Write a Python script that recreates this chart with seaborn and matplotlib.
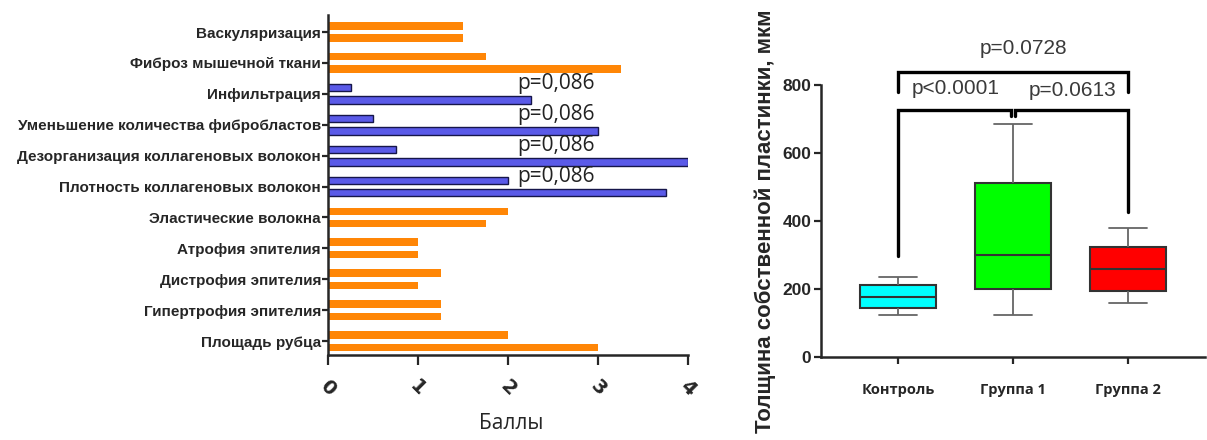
import numpy as np
import pandas as pd
import seaborn as sns
import matplotlib.pyplot as plt

# --- данные: левая панель (баллы) ---
categories = ["Васкуляризация", "Фиброз мышечной ткани", "Инфильтрация",
              "Уменьшение количества фибробластов",
              "Дезорганизация коллагеновых волокон",
              "Плотность коллагеновых волокон", "Эластические волокна",
              "Атрофия эпителия", "Дистрофия эпителия",
              "Гипертрофия эпителия", "Площадь рубца"]
upper_scores = [1.5, 1.75, 0.25, 0.5, 0.75, 2.0, 2.0, 1.0, 1.25, 1.25, 2.0]
lower_scores = [1.5, 3.25, 2.25, 3.0, 4.0, 3.75, 1.75, 1.0, 1.0, 1.25, 3.0]
highlighted = [False, False, True, True, True, True, False, False, False, False, False]
p_left = "p=0,086"

# --- данные: правая панель (толщина, мкм) ---
groups = ["Контроль", "Группа 1", "Группа 2"]
# min, Q1, медиана, Q3, max
control_box = [123, 144, 176, 210, 236]
group1_box = [123, 200, 300, 512, 686]
group2_box = [157, 192, 259, 323, 378]

bracket_pairs = [(0, 1), (1, 2), (0, 2)]
bracket_tops = [726, 726, 839]
bracket_legs = [(297, 708), (708, 427), (780, 780)]
bracket_labels = ["p<0.0001", "p=0.0613", "p=0.0728"]

sns.set_style("ticks")
plt.rcParams['font.family'] = ['Liberation Sans', 'DejaVu Sans']

fig = plt.figure(figsize=(12.07, 4.4), dpi=100)
ax1 = fig.add_axes([328 / 1207, 85 / 440, 360 / 1207, 340 / 440])
ax2 = fig.add_axes([821 / 1207, 83.3 / 440, 384 / 1207, 271.7 / 440])

# ---------- левая панель ----------
bars = pd.DataFrame({
    "cat": categories * 2,
    "score": upper_scores + lower_scores,
    "series": ["a"] * len(categories) + ["b"] * len(categories),
})
sns.barplot(data=bars, y="cat", x="score", hue="series", orient="h",
            errorbar=None, gap=0.4, legend=False, ax=ax1)

orange = "#FF8606"
blue = "#5A5AE8"
for cont in ax1.containers:
    for i, patch in enumerate(cont.patches):
        if highlighted[i]:
            patch.set_facecolor(blue)
            patch.set_edgecolor("#16164A")
            patch.set_linewidth(1.0)
        else:
            patch.set_facecolor(orange)
            patch.set_edgecolor("none")

for i, flag in enumerate(highlighted):
    if flag:
        ax1.text(2.1, i - 0.32, p_left, ha="left", va="center",
                 fontsize=15, color="#222222", family=["Open Sans", "DejaVu Sans"])

ax1.set_xlim(0, 4)
ax1.set_ylim(10.45, -0.55)
ax1.set_xticks([0, 1, 2, 3, 4])
ax1.set_xticklabels(["0", "1", "2", "3", "4"], rotation=-45, ha="center", va="center",
                    fontsize=14, fontweight="bold", family=["DejaVu Sans"])
ax1.tick_params(axis="x", length=7, width=1.6, pad=17)
ax1.tick_params(axis="y", length=4, width=1.6, pad=1)
for lab in ax1.get_yticklabels():
    lab.set_family(["Liberation Sans", "DejaVu Sans"])
    lab.set_fontweight("bold")
    lab.set_fontsize(11)
ax1.set_ylabel("")
ax1.set_xlabel("Баллы", fontsize=15, family=["Open Sans", "DejaVu Sans"])
ax1.xaxis.set_label_coords(0.51, -0.2)
ax1.xaxis.label.set_va("center")
sns.despine(ax=ax1)
for s in ["left", "bottom"]:
    ax1.spines[s].set_linewidth(1.8)

# ---------- правая панель ----------
boxes = pd.DataFrame({
    "group": np.repeat(groups, 5),
    "value": control_box + group1_box + group2_box,
})
sns.boxplot(data=boxes, x="group", y="value", hue="group", saturation=1,
            palette=["#00FFFF", "#00FF00", "#FF0000"], whis=np.inf,
            width=0.66, linecolor="#333333", linewidth=1.5, legend=False, ax=ax2,
            whiskerprops=dict(color="#666666", linewidth=1.3),
            capprops=dict(color="#666666", linewidth=1.3))

for (a, b), top, (la, lb), lab in zip(bracket_pairs, bracket_tops, bracket_legs, bracket_labels):
    xa = a + (0.02 if a == 1 else 0)
    xb = b - (0.02 if b == 1 else 0)
    ax2.plot([xa, xa, xb, xb], [la, top, top, lb], color="black", lw=2.4,
             clip_on=False, solid_joinstyle="miter")

ax2.text(0.5, 791, bracket_labels[0], ha="center", va="center", fontsize=15, color="#3a3a3a")
ax2.text(1.52, 783, bracket_labels[1], ha="center", va="center", fontsize=15, color="#3a3a3a")
ax2.text(1.09, 908, bracket_labels[2], ha="center", va="center", fontsize=15,
         color="#3a3a3a", clip_on=False)

ax2.set_ylim(0, 800)
ax2.set_xlim(-0.67, 2.67)
ax2.set_yticks([0, 200, 400, 600, 800])
ax2.tick_params(axis="y", length=5, width=1.6, pad=2, labelsize=12.5)
ax2.tick_params(axis="x", length=5, width=1.6, pad=14)
for lab in ax2.get_yticklabels():
    lab.set_fontweight("bold")
for lab in ax2.get_xticklabels():
    lab.set_fontweight("bold")
    lab.set_fontsize(10.5)
    lab.set_family(["Open Sans", "DejaVu Sans"])
ax2.set_xlabel("")
ax2.set_ylabel("Толщина собственной пластинки, мкм", fontsize=16, fontweight="bold")
ax2.yaxis.set_label_coords(-0.146, 0.5)
ax2.yaxis.label.set_va("center")
sns.despine(ax=ax2)
for s in ["left", "bottom"]:
    ax2.spines[s].set_linewidth(1.8)

fig.savefig("out.png", dpi=100)
